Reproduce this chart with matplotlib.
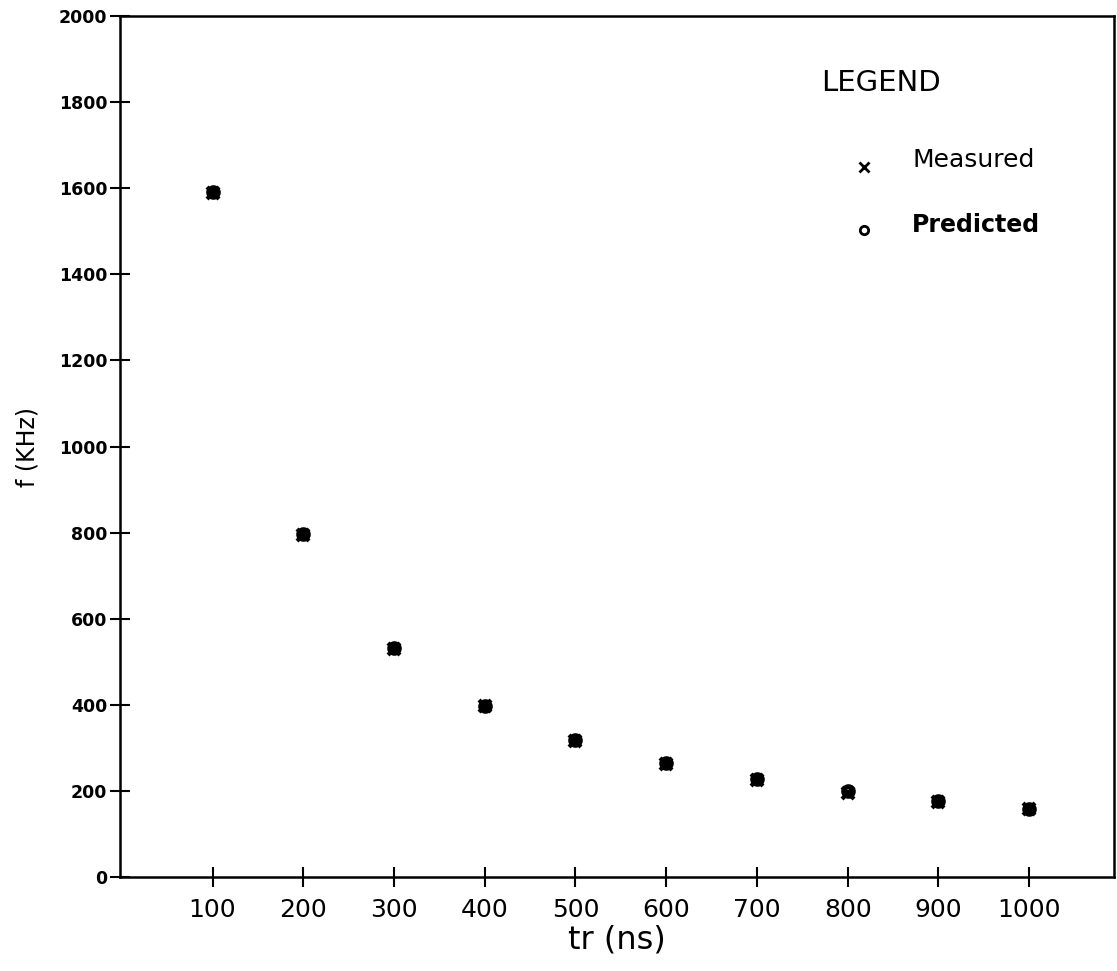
import matplotlib.pyplot as plt

tr = [100, 200, 300, 400, 500, 600, 700, 800, 900, 1000]
measured = [1590, 795, 530, 397, 316, 263, 225, 196, 174, 157]
predicted = [1592, 796, 531, 398, 318, 265, 227, 199, 177, 159]
xticks = [100, 200, 300, 400, 500, 600, 700, 800, 900, 1000]
yticks = [0, 200, 400, 600, 800, 1000, 1200, 1400, 1600, 1800, 2000]

fig = plt.figure(figsize=(11.17, 9.71), dpi=100)
ax = fig.add_axes([0.1074, 0.0968, 0.8903, 0.8867])

ax.plot(tr, predicted, 'o', color='black', ms=7, mfc='none', mew=3.5)
ax.plot(tr, measured, 'x', color='black', ms=9, mew=3)

ax.set_xlim(-2, 1094)
ax.set_ylim(0, 2000)
ax.set_xticks(xticks)
ax.set_yticks(yticks)
ax.tick_params(axis='both', direction='inout', length=14, width=1.5, color='black')
ax.tick_params(axis='x', labelsize=18, pad=8)
ax.tick_params(axis='y', labelsize=12.5, pad=2)
for lab in ax.get_yticklabels():
    lab.set_fontweight('bold')
for s in ax.spines.values():
    s.set_linewidth(1.8)

ax.set_xlabel('tr (ns)', fontsize=23, labelpad=2)
ax.set_ylabel('f (KHz)', fontsize=17, labelpad=14)

# legend drawn by hand, like the original plotter output
ax.text(0.705, 0.913, 'LEGEND', transform=ax.transAxes, fontsize=21)
ax.plot([0.7486], [0.825], 'x', color='black', ms=7, mew=2, transform=ax.transAxes)
ax.text(0.7965, 0.833, 'Measured', transform=ax.transAxes, fontsize=18, va='center')
ax.plot([0.7486], [0.751], 'o', color='black', ms=6, mfc='none', mew=2, transform=ax.transAxes)
ax.text(0.7965, 0.757, 'Predicted', transform=ax.transAxes, fontsize=17,
        va='center', fontweight='bold')

fig.savefig('out.png', dpi=100)
